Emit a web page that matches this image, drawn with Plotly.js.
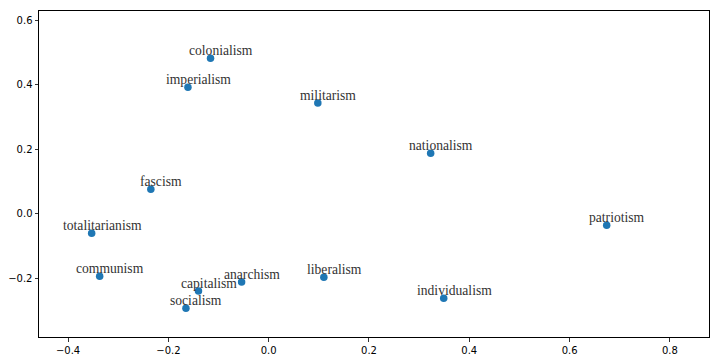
<!DOCTYPE html>
<html>
<head>
<meta charset="utf-8">
<script src="https://cdn.plot.ly/plotly-3.0.1.min.js"></script>
<style>html,body{margin:0;padding:0;background:#fff;}#chart{width:718px;height:361px;}</style>
</head>
<body>
<div id="chart"></div>
<script>
var words = ["colonialism","imperialism","militarism","nationalism","fascism","totalitarianism","communism","capitalism","socialism","anarchism","liberalism","patriotism","individualism"];
var xs = [-0.116,-0.161,0.098,0.323,-0.235,-0.353,-0.337,-0.140,-0.165,-0.054,0.110,0.674,0.349];
var ys = [0.482,0.392,0.343,0.188,0.076,-0.060,-0.193,-0.239,-0.292,-0.211,-0.196,-0.035,-0.261];
var xTicks = [-0.4,-0.2,0.0,0.2,0.4,0.6,0.8];
var yTicks = [-0.2,0.0,0.2,0.4,0.6];

var trace = {
  x: xs, y: ys, mode: 'markers', type: 'scatter',
  marker: {color: '#1f77b4', size: 7.5},
  hoverinfo: 'none'
};
var annotations = words.map(function(w, i){
  return {x: xs[i], y: ys[i], xref: 'x', yref: 'y', text: w, showarrow: false,
    xanchor: 'center', yanchor: 'bottom', xshift: 10.5, yshift: -1.5,
    font: {family: 'Liberation Serif, Times New Roman, serif', size: 13.6, color: '#333333'}};
});
var axisCommon = {
  showgrid: false, zeroline: false, showline: true, mirror: true,
  linecolor: '#000', linewidth: 1, ticks: 'outside', ticklen: 3.5, tickwidth: 0.8,
  tickcolor: '#000', tickformat: '.1f',
  tickfont: {family: 'DejaVu Sans, sans-serif', size: 10, color: '#000'}
};
var layout = {
  width: 718, height: 361,
  margin: {l: 38.5, r: 9.3, t: 11, b: 24, pad: 0},
  paper_bgcolor: '#fff', plot_bgcolor: '#fff',
  showlegend: false,
  xaxis: Object.assign({}, axisCommon, {range: [-0.458, 0.878], tickvals: xTicks}),
  yaxis: Object.assign({}, axisCommon, {range: [-0.381, 0.628], tickvals: yTicks}),
  annotations: annotations
};
Plotly.newPlot('chart', [trace], layout, {displayModeBar: false, staticPlot: true});
</script>
</body>
</html>
